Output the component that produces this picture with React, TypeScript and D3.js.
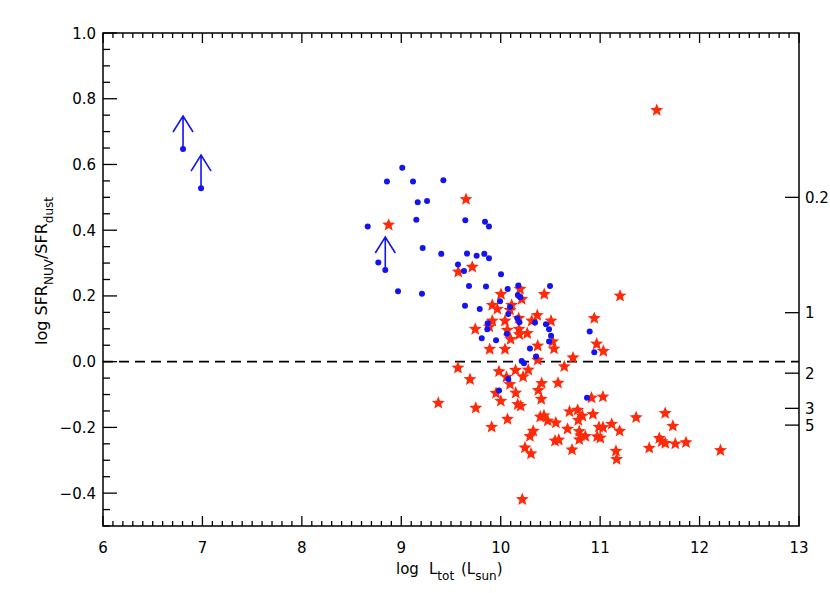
import React from 'react';
import * as d3 from 'd3';

const xTicks = [6, 7, 8, 9, 10, 11, 12, 13];
const yTicks = [-0.4, -0.2, 0, 0.2, 0.4, 0.6, 0.8, 1.0];
const rightTickValues = [0.5, 0.149, -0.035, -0.142, -0.193];
const rightTickLabels = ['0.2', '1', '2', '3', '5'];

const blueX = [9.010,8.856,9.118,9.423,9.165,9.259,9.151,8.662,9.644,9.842,9.882,9.215,9.402,9.661,9.758,9.835,9.882,9.570,9.631,10.003,8.769,8.967,9.208,9.681,9.852,10.070,10.177,10.496,10.172,10.197,9.993,9.641,9.789,10.093,10.076,10.167,10.187,9.869,9.865,10.345,10.455,10.486,9.809,9.953,10.063,10.506,10.486,10.294,10.355,10.211,10.234,10.895,10.941,10.076,9.983,10.868];
const blueY = [0.590,0.548,0.548,0.552,0.485,0.489,0.432,0.411,0.430,0.426,0.411,0.346,0.328,0.329,0.322,0.328,0.315,0.296,0.276,0.266,0.302,0.214,0.207,0.230,0.229,0.221,0.232,0.230,0.203,0.196,0.184,0.170,0.160,0.166,0.145,0.132,0.120,0.117,0.099,0.119,0.114,0.099,0.071,0.065,0.084,0.079,0.061,0.040,0.016,0.002,-0.005,0.092,0.029,-0.053,-0.088,-0.110];

const limitX = [6.805, 6.986, 8.839];
const limitY = [0.647, 0.528, 0.279];

const starX = [11.569,11.200,9.651,8.873,9.714,9.573,10.194,10.438,10.003,9.915,
  9.966,10.110,10.093,10.211,10.368,10.181,10.312,9.915,10.043,10.506,
  9.744,9.885,10.066,10.184,10.267,10.187,10.100,10.372,9.889,10.043,
  10.523,10.536,10.372,9.570,10.941,10.965,11.032,10.727,10.639,9.983,
  10.149,10.277,10.058,10.225,9.691,10.093,9.953,10.412,10.378,10.576,
  10.151,10.001,10.408,9.372,9.749,10.171,10.201,10.913,11.028,10.398,
  10.435,10.473,10.554,10.692,10.774,10.821,10.780,10.928,11.362,10.068,
  9.909,10.327,10.294,10.672,10.790,10.804,10.851,10.790,10.546,10.584,
  10.988,11.029,11.116,11.196,10.970,11.002,10.244,10.305,10.717,11.159,
  11.166,11.494,11.595,11.619,11.655,11.756,11.863,12.210,11.654,11.731,10.217];
const starY = [0.765,0.200,0.494,0.416,0.288,0.273,0.221,0.205,0.205,0.172,
  0.160,0.172,0.157,0.190,0.141,0.132,0.124,0.124,0.124,0.124,
  0.099,0.106,0.096,0.099,0.086,0.083,0.068,0.048,0.038,0.038,
  0.061,0.039,0.005,-0.019,0.132,0.054,0.032,0.012,-0.015,-0.030,
  -0.026,-0.025,-0.047,-0.046,-0.054,-0.069,-0.096,-0.066,-0.087,-0.065,
  -0.095,-0.120,-0.114,-0.126,-0.141,-0.130,-0.135,-0.110,-0.107,-0.168,
  -0.164,-0.180,-0.186,-0.152,-0.147,-0.165,-0.178,-0.160,-0.170,-0.175,
  -0.199,-0.211,-0.227,-0.205,-0.212,-0.225,-0.227,-0.237,-0.241,-0.238,
  -0.199,-0.200,-0.190,-0.211,-0.228,-0.232,-0.262,-0.280,-0.268,-0.272,
  -0.297,-0.263,-0.233,-0.243,-0.248,-0.250,-0.246,-0.270,-0.157,-0.196,-0.419];

const W = 830, H = 593;
const L = 103, R = 799, T = 33, B = 526;
const FONT = "'DejaVu Sans', Verdana, sans-serif";
const BLUE = '#1414f0';
const RED = '#ff2a0a';

function starPath(r1: number, r2: number): string {
  const pts: [number, number][] = [];
  for (let i = 0; i < 10; i++) {
    const a = (i * Math.PI) / 5 - Math.PI / 2;
    const r = i % 2 === 0 ? r1 : r2;
    pts.push([r * Math.cos(a), r * Math.sin(a)]);
  }
  return (d3.line()(pts) || '') + 'Z';
}

export default function App() {
  const x = d3.scaleLinear().domain([6, 13]).range([L, R]);
  const y = d3.scaleLinear().domain([-0.5, 1.0]).range([B, T]);
  const xMinor = d3.range(60, 131).map((v) => v / 10);
  const yMinor = d3.range(-10, 21).map((v) => v * 0.05);
  const star = starPath(6.8, 3.0);
  const fs = 15;

  return (
    <svg width={W} height={H} style={{ position: 'absolute', left: 0, top: 0, background: '#fff' }} fontFamily={FONT}>
      <rect x={0} y={0} width={W} height={H} fill="#fff" />
      <g stroke="#000" strokeWidth={1.3}>
        {xMinor.map((v, i) => {
          const major = Math.abs(v - Math.round(v)) < 1e-6;
          const len = major ? 10 : 5;
          return (
            <g key={'xm' + i}>
              <line x1={x(v)} x2={x(v)} y1={B} y2={B - len} />
              <line x1={x(v)} x2={x(v)} y1={T} y2={T + len} />
            </g>
          );
        })}
        {yMinor.map((v, i) => {
          const major = Math.abs(v / 0.2 - Math.round(v / 0.2)) < 1e-6;
          const len = major ? 14 : 7;
          return <line key={'ym' + i} x1={L} x2={L + len} y1={y(v)} y2={y(v)} />;
        })}
        {rightTickValues.map((v, i) => (
          <line key={'rt' + i} x1={R} x2={R - 14} y1={y(v)} y2={y(v)} />
        ))}
      </g>
      <rect x={L} y={T} width={R - L} height={B - T} fill="none" stroke="#000" strokeWidth={1.5} />
      <line x1={L} x2={R} y1={y(0)} y2={y(0)} stroke="#000" strokeWidth={1.8} strokeDasharray="10,6" />
      <g fill={RED}>
        {starX.map((v, i) => (
          <path key={'s' + i} d={star} transform={`translate(${x(v)},${y(starY[i])})`} />
        ))}
      </g>
      <g fill={BLUE}>
        {blueX.map((v, i) => (
          <circle key={'b' + i} cx={x(v)} cy={y(blueY[i])} r={3} />
        ))}
      </g>
      <g stroke={BLUE} strokeWidth={1.6} fill="none">
        {limitX.map((v, i) => {
          const px = x(v), py = y(limitY[i]);
          return (
            <g key={'l' + i}>
              <circle cx={px} cy={py} r={3} fill={BLUE} stroke="none" />
              <path d={`M${px},${py}L${px},${py - 33}M${px - 10},${py - 17}L${px},${py - 33}L${px + 10},${py - 17}`} />
            </g>
          );
        })}
      </g>
      <g fontSize={fs} fill="#000">
        {xTicks.map((v) => (
          <text key={'xt' + v} x={x(v)} y={553} textAnchor="middle">{v}</text>
        ))}
        {yTicks.map((v) => (
          <text key={'yt' + v} x={96} y={y(v) + 5.5} textAnchor="end">
            {v < 0 ? '\u2212' + Math.abs(v).toFixed(1) : v.toFixed(1)}
          </text>
        ))}
        {rightTickValues.map((v, i) => (
          <text key={'rl' + i} x={805} y={y(v) + 5.5} textAnchor="start">{rightTickLabels[i]}</text>
        ))}
      </g>
      <text x={396} y={574} fontSize={fs}>
        <tspan>log</tspan>
        <tspan x={429}>L</tspan>
        <tspan fontSize={12} dy={6}>tot</tspan>
        <tspan x={461} dy={-6}>(L</tspan>
        <tspan fontSize={12} dy={6}>sun</tspan>
        <tspan dy={-6}>)</tspan>
      </text>
      <text transform={`translate(47,271) rotate(-90)`} textAnchor="middle" fontSize={16}>
        <tspan>log SFR</tspan>
        <tspan fontSize={12} dy={6}>NUV</tspan>
        <tspan dy={-6}>/SFR</tspan>
        <tspan fontSize={12} dy={6}>dust</tspan>
      </text>
    </svg>
  );
}
